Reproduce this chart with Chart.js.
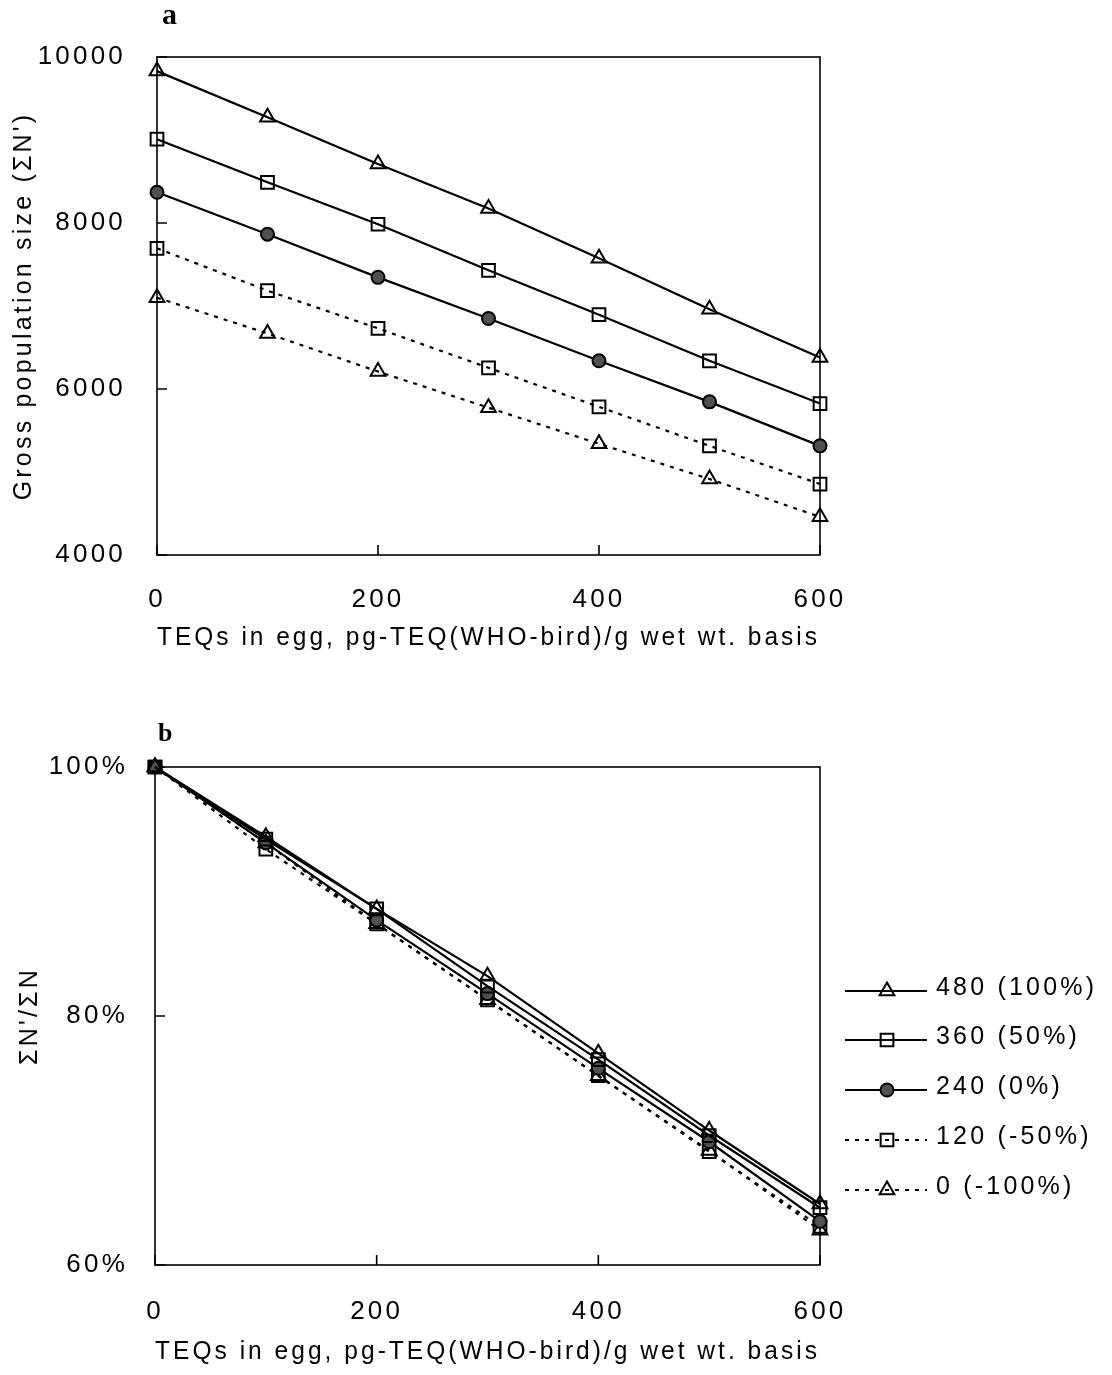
<!DOCTYPE html>
<html><head><meta charset="utf-8">
<script src="https://cdn.jsdelivr.net/npm/chart.js@4"></script>
<style>
html,body{margin:0;padding:0;background:#fff;}
body{width:1112px;height:1375px;position:relative;overflow:hidden;}
canvas{position:absolute;left:0;}
#ca{top:0}
#cb{top:680px}
</style></head><body>
<canvas id="ca" width="1112" height="680"></canvas>
<canvas id="cb" width="1112" height="695"></canvas>
<script>
// ---- data ----
const teq = [0, 100, 200, 300, 400, 500, 600];
const seriesLabels = ['480 (100%)', '360 (50%)', '240 (0%)', '120 (-50%)', '0 (-100%)'];
// panel a: gross population size (ΣN')
const gross480 = [9830, 9275, 8710, 8175, 7575, 6960, 6380];
const gross360 = [9010, 8490, 7985, 7430, 6895, 6340, 5825];
const gross240 = [8370, 7865, 7345, 6850, 6340, 5845, 5315];
const gross120 = [7695, 7185, 6730, 6255, 5785, 5315, 4855];
const gross0   = [7100, 6670, 6210, 5775, 5340, 4915, 4460];
// panel b: ΣN'/ΣN (%)
const ratio480 = [100, 94.4, 88.6, 83.2, 77.0, 70.8, 64.9];
const ratio360 = [100, 94.2, 88.6, 82.4, 76.5, 70.4, 64.6];
const ratio240 = [100, 93.9, 87.7, 81.8, 75.8, 69.9, 63.5];
const ratio120 = [100, 93.4, 87.4, 81.3, 75.2, 69.1, 63.1];
const ratio0   = [100, 93.9, 87.4, 81.3, 75.2, 69.2, 62.8];
const xTickValues = [0, 200, 400, 600];
const yTicksA = [4000, 6000, 8000, 10000];
const yTicksB = [60, 80, 100];

// ---- styles ----
const F = '"Liberation Sans", Arial, sans-serif';
const LS = '3.2px';
const styles = [
  {pointStyle:'triangle', pointRadius:8.5, dash:[], bg:'rgba(0,0,0,0)'},
  {pointStyle:'rect', pointRadius:9, dash:[], bg:'rgba(0,0,0,0)'},
  {pointStyle:'circle', pointRadius:6.5, dash:[], bg:'#505050'},
  {pointStyle:'rect', pointRadius:9, dash:[4,6], bg:'rgba(0,0,0,0)'},
  {pointStyle:'triangle', pointRadius:8.5, dash:[4,6], bg:'rgba(0,0,0,0)'}
];
function mkDatasets(arrs){
  return arrs.map((vals,i)=>({
    label: seriesLabels[i],
    data: teq.map((t,j)=>({x:t, y:vals[j]})),
    borderColor:'#000', borderWidth:2.2, borderDash:styles[i].dash,
    pointStyle:styles[i].pointStyle, pointRadius:styles[i].pointRadius,
    pointBorderColor:'#000', pointBorderWidth:2, pointBackgroundColor:styles[i].bg,
    pointHoverRadius:styles[i].pointRadius,
    tension:0, fill:false, clip:false
  }));
}

const frameTicks = {
  id:'frameTicks',
  beforeUpdate(chart){ chart.ctx.letterSpacing = LS; },
  beforeDraw(chart){ chart.ctx.letterSpacing = LS; },
  beforeDatasetsDraw(chart){
    const {ctx, chartArea:a, scales:{x,y}} = chart;
    ctx.save();
    ctx.strokeStyle='#000'; ctx.lineWidth=1.6; ctx.setLineDash([]);
    ctx.strokeRect(a.left, a.top, a.right-a.left, a.bottom-a.top);
    ctx.beginPath();
    x.ticks.forEach(t=>{const px=x.getPixelForValue(t.value); ctx.moveTo(px,a.bottom); ctx.lineTo(px,a.bottom-10);});
    y.ticks.forEach(t=>{const py=y.getPixelForValue(t.value); ctx.moveTo(a.left,py); ctx.lineTo(a.left+10,py);});
    ctx.stroke();
    ctx.restore();
  },
  afterDraw(chart, args, opts){
    const ctx = chart.ctx;
    ctx.save();
    ctx.letterSpacing='0px';
    ctx.fillStyle='#000';
    ctx.font = 'bold ' + opts.panelSize + 'px "Liberation Serif", "Times New Roman", serif';
    ctx.textBaseline='alphabetic'; ctx.textAlign='left';
    ctx.fillText(opts.panel, opts.px, opts.py);
    if (opts.legend){
      const ys = opts.legendY;
      chart.data.datasets.forEach((ds,i)=>{
        const y = ys[i];
        ctx.strokeStyle='#000'; ctx.lineWidth=2.2; ctx.setLineDash(ds.borderDash);
        ctx.beginPath(); ctx.moveTo(845,y); ctx.lineTo(927,y); ctx.stroke();
        ctx.setLineDash([]);
        ctx.lineWidth = ds.pointBorderWidth;
        ctx.fillStyle = ds.pointBackgroundColor; ctx.strokeStyle='#000';
        Chart.helpers.drawPoint(ctx, {pointStyle:ds.pointStyle, radius:ds.pointRadius, rotation:0, borderWidth:ds.pointBorderWidth}, 887, y);
        ctx.fillStyle='#000';
        ctx.letterSpacing=LS;
        ctx.font = '25px ' + F;
        ctx.textBaseline='middle'; ctx.textAlign='left';
        ctx.fillText(ds.label, 936, y-3);
        ctx.letterSpacing='0px';
      });
    }
    ctx.restore();
  }
};

function axisX(titlePadBottom, height, padTicks){
  return {
    type:'linear', min:0, max:600,
    afterBuildTicks(s){ s.ticks = xTickValues.map(v=>({value:v})); },
    ticks:{color:'#000', font:{family:F, size:26}, padding:padTicks, maxRotation:0, autoSkip:false, callback:v=>String(v)},
    grid:{display:false, drawTicks:false}, border:{display:false},
    title:{display:true, text:'TEQs in egg, pg-TEQ(WHO-bird)/g wet wt. basis', color:'#000',
      font:{family:F, size:26}, padding:{top:0, bottom:titlePadBottom}},
    afterFit(s){ s.height = height; }
  };
}

new Chart(document.getElementById('ca'), {
  type:'line',
  data:{datasets: mkDatasets([gross480, gross360, gross240, gross120, gross0])},
  options:{
    responsive:false, animation:false, events:[],
    layout:{padding:{top:57, right:292, left:0, bottom:0}},
    plugins:{legend:{display:false}, tooltip:{enabled:false},
      frameTicks:{panel:'a', panelSize:30, px:162, py:24, legend:false}},
    scales:{
      x: axisX(27, 125, 29),
      y:{min:4000, max:10000,
        afterBuildTicks(s){ s.ticks = yTicksA.map(v=>({value:v})); },
        ticks:{color:'#000', font:{family:F, size:26}, padding:31, callback:v=>String(v)},
        grid:{display:false, drawTicks:false}, border:{display:false},
        title:{display:true, text:"Gross population size (ΣN')", color:'#000', font:{family:F, size:25}, padding:{top:9, bottom:0}},
        afterFit(s){ s.width = 157; }
      }
    }
  },
  plugins:[frameTicks]
});

new Chart(document.getElementById('cb'), {
  type:'line',
  data:{datasets: mkDatasets([ratio480, ratio360, ratio240, ratio120, ratio0])},
  options:{
    responsive:false, animation:false, events:[],
    layout:{padding:{top:87, right:292, left:0, bottom:0}},
    plugins:{legend:{display:false}, tooltip:{enabled:false},
      frameTicks:{panel:'b', panelSize:26, px:158, py:61, legend:true, legendY:[311, 360, 410, 460, 510]}},
    scales:{
      x: axisX(8, 110, 31),
      y:{min:60, max:100,
        afterBuildTicks(s){ s.ticks = yTicksB.map(v=>({value:v})); },
        ticks:{color:'#000', font:{family:F, size:26}, padding:27, callback:v=>v+'%'},
        grid:{display:false, drawTicks:false}, border:{display:false},
        title:{display:true, text:"ΣN'/ΣN", color:'#000', font:{family:F, size:25}, padding:{top:15, bottom:0}},
        afterFit(s){ s.width = 155; }
      }
    }
  },
  plugins:[frameTicks]
});
</script>
</body></html>
